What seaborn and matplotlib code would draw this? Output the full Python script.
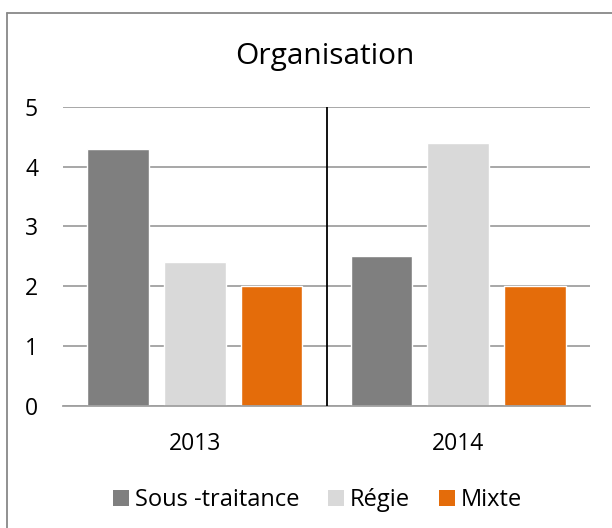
import pandas as pd
import matplotlib.pyplot as plt
import seaborn as sns
from matplotlib.patches import Patch

# data
years = ["2013", "2014"]
series = ["Sous -traitance", "Régie", "Mixte"]
sous_traitance = [4.3, 2.5]
regie = [2.4, 4.4]
mixte = [2.0, 2.0]
colors = ["#7f7f7f", "#d9d9d9", "#e46c0a"]

df = pd.DataFrame({
    "Année": years * 3,
    "Type": [s for s in series for _ in years],
    "Valeur": sous_traitance + regie + mixte,
})

sns.set_style("white")
plt.rcParams["font.family"] = ["Open Sans", "DejaVu Sans"]
plt.rcParams["text.color"] = "black"

fig = plt.figure(figsize=(6.12, 5.28), dpi=100)
ax = fig.add_axes([0.103, 0.231, 0.861, 0.567])

sns.barplot(data=df, x="Année", y="Valeur", hue="Type", palette=colors,
            width=0.876, gap=0.2, ax=ax, legend=False, saturation=1)

ax.set_ylim(0, 5)
ax.set_xlim(-0.5, 1.5)
ax.set_yticks(range(6))
ax.yaxis.grid(True, color="#a0a0a0", linewidth=1.3)
ax.set_axisbelow(True)
ax.axvline(0.5, color="black", linewidth=1.3, zorder=3)
for s in ["top", "right", "left"]:
    ax.spines[s].set_visible(False)
ax.spines["bottom"].set_color("#a0a0a0")
ax.spines["bottom"].set_linewidth(1.3)
ax.tick_params(axis="both", length=0, labelsize=16.5, colors="black")
ax.tick_params(axis="x", pad=19)
ax.tick_params(axis="y", pad=18)
ax.set_xlabel("")
ax.set_ylabel("")

fig.text(0.531, 0.893, "Organisation", ha="center", va="center", fontsize=21.5)

handles = [Patch(facecolor=c, edgecolor="none") for c in colors]
fig.legend(handles, series, loc="center", bbox_to_anchor=(0.519, 0.053), ncol=3,
           frameon=False, fontsize=17, handlelength=0.68, handleheight=0.68,
           handletextpad=0.25, columnspacing=1.2)

# outer chart frame (only left and top edges visible)
fig.add_artist(plt.Line2D([0.0115, 0.0115], [0.0, 0.975], color="#888888", linewidth=1.3))
fig.add_artist(plt.Line2D([0.0115, 1.0], [0.975, 0.975], color="#888888", linewidth=1.3))

fig.savefig("out.png", dpi=100)
